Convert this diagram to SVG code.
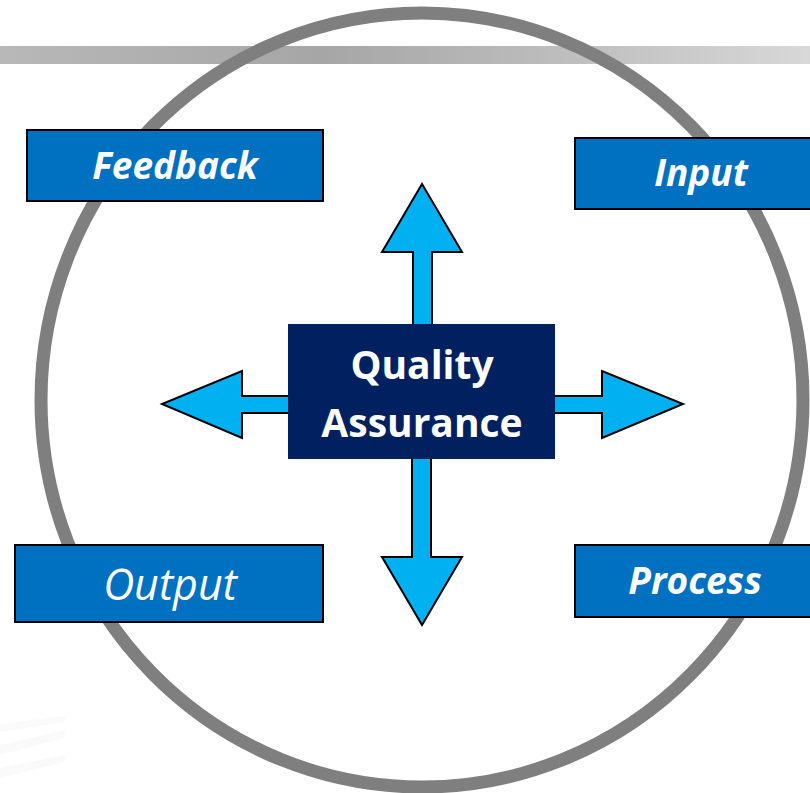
<svg xmlns="http://www.w3.org/2000/svg" width="810" height="793" viewBox="0 0 810 793">
<defs>
<linearGradient id="bar" x1="0" y1="0" x2="1" y2="0">
<stop offset="0" stop-color="#b8b8b8"/>
<stop offset="0.4" stop-color="#a6a6a6"/>
<stop offset="0.75" stop-color="#c2c2c2"/>
<stop offset="1" stop-color="#d8d8d8"/>
</linearGradient>
<style>
.box{fill:#0070c0;stroke:#000;stroke-width:2}
.lbl{fill:#fff;font-family:"Open Sans","Noto Sans",sans-serif;font-style:italic;text-anchor:middle}
.arrow{fill:#00b0f0;stroke:#000;stroke-width:2;stroke-linejoin:miter}
.qa{fill:#fff;font-family:"Open Sans","Noto Sans",sans-serif;font-weight:bold;font-size:39px;text-anchor:middle}
</style>
</defs>
<rect width="810" height="793" fill="#fff"/>
<g id="reflection" fill="#fafafa">
<polygon points="0,724 65,716 65,722 0,732"/>
<polygon points="0,745 65,730 65,738 0,755"/>
<polygon points="0,768 65,755 65,762 0,778"/>
</g>
<rect id="bar-line" x="0" y="46" width="810" height="18" fill="url(#bar)"/>
<ellipse id="ring" cx="422" cy="400" rx="381" ry="387" fill="none" stroke="#7f7f7f" stroke-width="13"/>
<g id="connectors">
<polygon class="arrow" points="413,330 413,252 382,252 422,184 462,252 432,252 432,330"/>
<polygon class="arrow" points="412,450 412,557 382,557 422,625 462,557 431,557 431,450"/>
<polygon class="arrow" points="295,396 242,396 242,371 162,404 242,438 242,413 295,413"/>
<polygon class="arrow" points="548,396 602,396 602,371 683,404 602,438 602,413 548,413"/>
</g>
<g id="feedback">
<rect class="box" x="27" y="130" width="296" height="71"/>
<text class="lbl" x="175" y="179" font-size="37" font-weight="bold">Feedback</text>
</g>
<g id="input">
<rect class="box" x="575" y="138" width="250" height="71"/>
<text class="lbl" x="701" y="186" font-size="37" font-weight="bold">Input</text>
</g>
<g id="output">
<rect class="box" x="15" y="545" width="308" height="77"/>
<text class="lbl" x="170" y="600" font-size="43">Output</text>
</g>
<g id="process">
<rect class="box" x="575" y="545" width="250" height="72"/>
<text class="lbl" x="695" y="594" font-size="37" font-weight="bold">Process</text>
</g>
<g id="quality-assurance">
<rect x="288" y="324" width="267" height="135" fill="#002060"/>
<text class="qa" x="422" y="379">Quality</text>
<text class="qa" x="422" y="437">Assurance</text>
</g>
</svg>
